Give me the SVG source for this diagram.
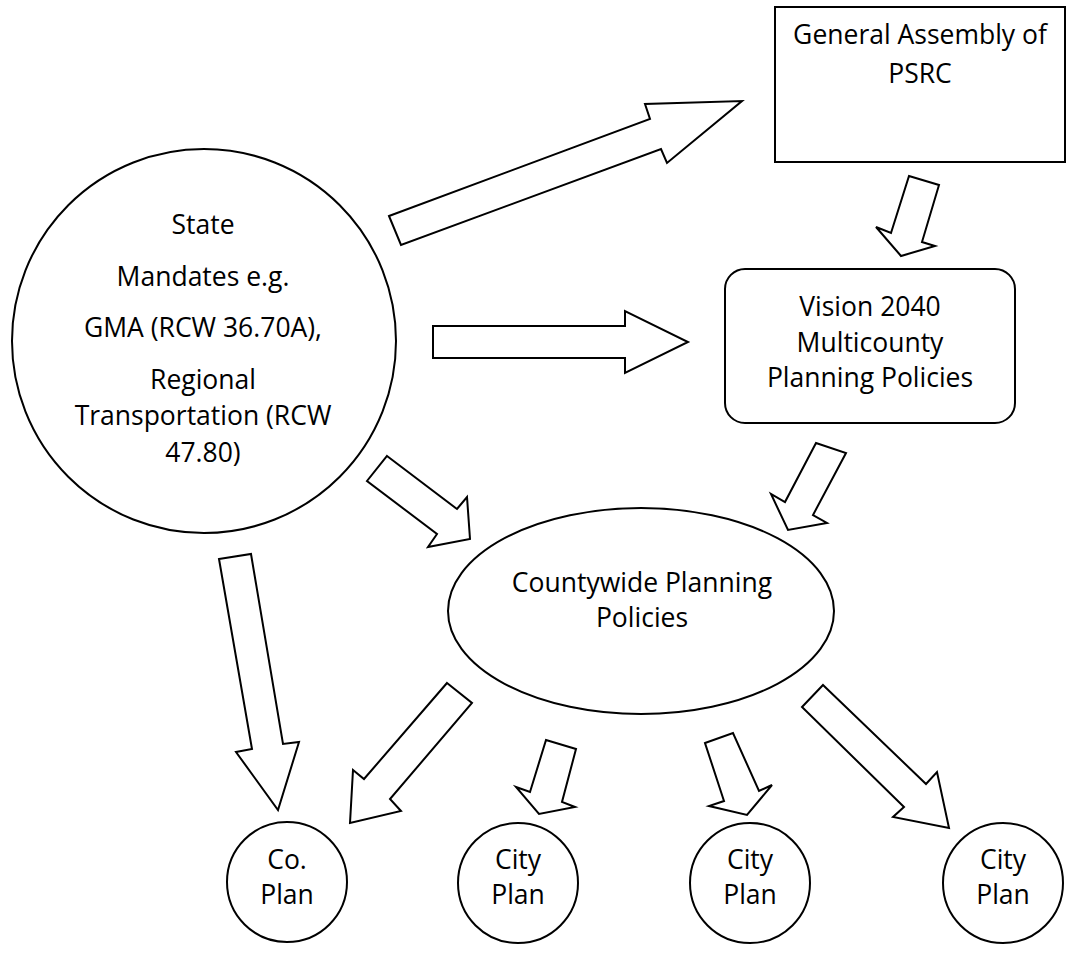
<svg xmlns="http://www.w3.org/2000/svg" width="1076" height="970" viewBox="0 0 1076 970">
<style>
.shape{fill:#fff;stroke:#000;stroke-width:2}
.arrow{fill:#fff;stroke:#000;stroke-width:2;stroke-linejoin:miter}
text{font-family:"Open Sans","Liberation Sans",sans-serif;font-size:26.5px;fill:#000;text-anchor:middle}
</style>
<rect width="1076" height="970" fill="#fff"/>
<g id="connectors">
<polygon class="arrow" points="389,216 650,119 645,104 742,101 667,163 661,149 401,245"/>
<polygon class="arrow" points="909,176 939,185 922,242 935,246 901,256 876,227 891,233"/>
<polygon class="arrow" points="433,326 625,326 625,311 688,342 625,373 625,358 433,358"/>
<polygon class="arrow" points="387,456 457,509 467,497 470,539 428,547 437,534 367,481"/>
<polygon class="arrow" points="816,443 846,453 813,515 827,523 788,530 771,494 785,502"/>
<polygon class="arrow" points="219,559 251,554 283,744 299,742 278,810 236,752 252,749"/>
<polygon class="arrow" points="447,683 472,703 390,799 401,811 350,823 353,770 364,779"/>
<polygon class="arrow" points="546,740 576,749 562,802 575,807 539,814 516,787 530,792"/>
<polygon class="arrow" points="705,743 733,733 759,791 772,785 747,815 709,806 724,801"/>
<polygon class="arrow" points="823,685 926,784 937,772 949,828 893,817 904,807 802,707"/>
</g>
<g id="ga">
<rect class="shape" x="775" y="7" width="290" height="155"/>
<text x="920" y="44">General Assembly of</text>
<text x="920" y="83">PSRC</text>
</g>
<g id="state">
<circle class="shape" cx="204" cy="341" r="192"/>
<text x="203" y="234">State</text>
<text x="203" y="286">Mandates e.g.</text>
<text x="203" y="337">GMA (RCW 36.70A),</text>
<text x="203" y="389">Regional</text>
<text x="203" y="425">Transportation (RCW</text>
<text x="203" y="462">47.80)</text>
</g>
<g id="vision">
<rect class="shape" x="725" y="269" width="290" height="154" rx="20" ry="20"/>
<text x="870" y="316">Vision 2040</text>
<text x="870" y="352">Multicounty</text>
<text x="870" y="387">Planning Policies</text>
</g>
<g id="county">
<ellipse class="shape" cx="641" cy="611" rx="193" ry="103"/>
<text x="642" y="592">Countywide Planning</text>
<text x="642" y="627">Policies</text>
</g>
<g id="coplan">
<circle class="shape" cx="287" cy="882" r="60"/>
<text x="287" y="869">Co.</text>
<text x="287" y="904">Plan</text>
</g>
<g id="city1">
<circle class="shape" cx="518" cy="883" r="60"/>
<text x="518" y="869">City</text>
<text x="518" y="904">Plan</text>
</g>
<g id="city2">
<circle class="shape" cx="750" cy="883" r="60"/>
<text x="750" y="869">City</text>
<text x="750" y="904">Plan</text>
</g>
<g id="city3">
<circle class="shape" cx="1003" cy="883" r="60"/>
<text x="1003" y="869">City</text>
<text x="1003" y="904">Plan</text>
</g>
</svg>
